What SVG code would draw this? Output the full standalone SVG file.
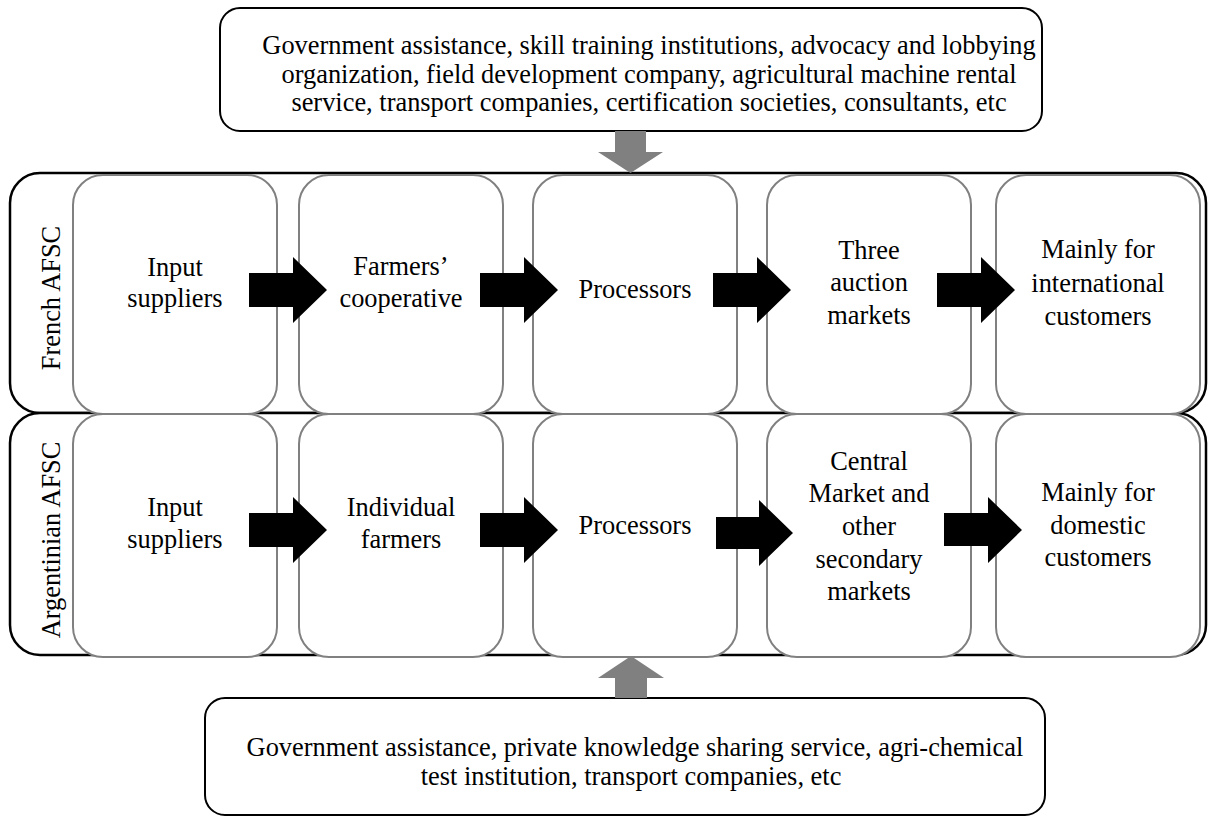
<svg xmlns="http://www.w3.org/2000/svg" width="1208" height="818" viewBox="0 0 1208 818">
<style>
.t{font-family:"Liberation Serif","Times New Roman",serif;font-size:26.4px;fill:#000;text-anchor:middle}
.box{fill:#fff;stroke:#000;stroke-width:2}
.band{fill:#fff;stroke:#000;stroke-width:2.5}
.node{fill:#fff;stroke:#808080;stroke-width:2}
.blk{fill:#000}
.gry{fill:#808080}
</style>
<rect width="1208" height="818" fill="#fff"/>
<g id="top-support">
<rect class="box" x="220" y="8" width="822" height="123" rx="20"/>
<text class="t" x="649" y="54">Government assistance, skill training institutions, advocacy and lobbying</text>
<text class="t" x="649" y="83">organization, field development company, agricultural machine rental</text>
<text class="t" x="649" y="111">service, transport companies, certification societies, consultants, etc</text>
</g>
<g id="french-band">
<rect class="band" x="10" y="173" width="1196" height="240" rx="30"/>
<text class="t" transform="translate(60,298) rotate(-90)">French AFSC</text>
</g>
<g id="argentinian-band">
<rect class="band" x="10" y="413" width="1196" height="242" rx="30"/>
<text class="t" transform="translate(60,540) rotate(-90)">Argentinian AFSC</text>
</g>
<g id="bottom-support">
<rect class="box" x="205" y="698" width="840" height="117" rx="20"/>
<text class="t" x="635" y="756">Government assistance, private knowledge sharing service, agri-chemical</text>
<text class="t" x="631" y="785">test institution, transport companies, etc</text>
</g>
<g id="fr-input">
<rect class="node" x="73" y="175" width="204" height="239" rx="30"/>
<text class="t" x="175" y="276">Input</text>
<text class="t" x="175" y="307">suppliers</text>
</g>
<g id="fr-coop">
<rect class="node" x="299" y="175" width="204" height="239" rx="30"/>
<text class="t" x="401" y="275">Farmers’</text>
<text class="t" x="401" y="307">cooperative</text>
</g>
<g id="fr-proc">
<rect class="node" x="533" y="175" width="204" height="239" rx="30"/>
<text class="t" x="635" y="298">Processors</text>
</g>
<g id="fr-auction">
<rect class="node" x="767" y="175" width="204" height="239" rx="30"/>
<text class="t" x="869" y="259">Three</text>
<text class="t" x="869" y="291">auction</text>
<text class="t" x="869" y="324">markets</text>
</g>
<g id="fr-customers">
<rect class="node" x="996" y="175" width="204" height="239" rx="30"/>
<text class="t" x="1098" y="258">Mainly for</text>
<text class="t" x="1098" y="292">international</text>
<text class="t" x="1098" y="325">customers</text>
</g>
<g id="ar-input">
<rect class="node" x="73" y="414" width="204" height="243" rx="30"/>
<text class="t" x="175" y="516">Input</text>
<text class="t" x="175" y="548">suppliers</text>
</g>
<g id="ar-farmers">
<rect class="node" x="299" y="414" width="204" height="243" rx="30"/>
<text class="t" x="401" y="516">Individual</text>
<text class="t" x="401" y="548">farmers</text>
</g>
<g id="ar-proc">
<rect class="node" x="533" y="414" width="204" height="243" rx="30"/>
<text class="t" x="635" y="534">Processors</text>
</g>
<g id="ar-markets">
<rect class="node" x="767" y="414" width="204" height="243" rx="30"/>
<text class="t" x="869" y="470">Central</text>
<text class="t" x="869" y="502">Market and</text>
<text class="t" x="869" y="535">other</text>
<text class="t" x="869" y="568">secondary</text>
<text class="t" x="869" y="600">markets</text>
</g>
<g id="ar-customers">
<rect class="node" x="996" y="414" width="204" height="243" rx="30"/>
<text class="t" x="1098" y="501">Mainly for</text>
<text class="t" x="1098" y="534">domestic</text>
<text class="t" x="1098" y="566">customers</text>
</g>
<g id="connectors">
<polygon class="blk" points="249,273 293,273 293,257 327,290 293,323 293,307 249,307"/>
<polygon class="blk" points="480,273 524,273 524,257 558,290 524,323 524,307 480,307"/>
<polygon class="blk" points="713,273 757,273 757,257 791,290 757,323 757,307 713,307"/>
<polygon class="blk" points="937,273 981,273 981,257 1015,290 981,323 981,307 937,307"/>
<polygon class="blk" points="249,513 293,513 293,497 327,530 293,563 293,547 249,547"/>
<polygon class="blk" points="480,513 524,513 524,497 558,530 524,563 524,547 480,547"/>
<polygon class="blk" points="716,517 759,517 759,500 793,533 759,566 759,549 716,549"/>
<polygon class="blk" points="944,513 988,513 988,497 1022,530 988,563 988,546 944,546"/>
<polygon class="gry" points="615,131 646,131 646,152 663,152 630.5,173 598,152 615,152"/>
<polygon class="gry" points="615,698 647,698 647,678 664,678 631,656 598,678 615,678"/>
</g>
</svg>
